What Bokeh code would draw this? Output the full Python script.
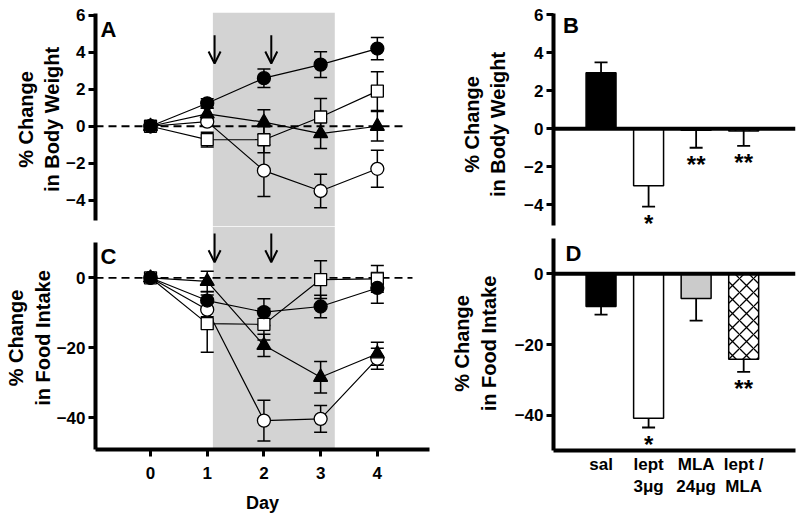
import numpy as np
from bokeh.plotting import figure
from bokeh.layouts import row, column
from bokeh.models import (Range1d, Label, Arrow, OpenHead, FixedTicker, Span,
                          BoxAnnotation, ColumnDataSource)
from bokeh.core.properties import value
from bokeh.embed import file_html
from bokeh.resources import INLINE

FONT = "Liberation Sans"

# ---------------- data ----------------
days = [0, 1, 2, 3, 4]
injection_days = [1.13, 2.13]
treatment_window = (1.1, 3.25)

# Panel A: % change in body weight (mean, SEM)
bw_sal = [0, 1.24, 2.6, 3.33, 4.2]
bw_sal_err = [0, 0.25, 0.5, 0.7, 0.6]
bw_lept = [0, 0.25, -2.4, -3.5, -2.3]
bw_lept_err = [0, 0.2, 1.4, 0.9, 1.0]
bw_mla = [0, 0.67, 0.22, -0.4, 0.0]
bw_mla_err = [0, 0.3, 0.67, 0.8, 0.8]
bw_combo = [0, -0.72, -0.73, 0.5, 1.9]
bw_combo_err = [0, 0.4, 0.7, 1.0, 1.05]

# Panel C: % change in food intake (mean, SEM)
fi_sal = [0, -6.5, -9.8, -8.2, -2.9]
fi_sal_err = [0, 2.5, 3.8, 3.2, 4.4]
fi_lept = [0, -9.1, -40.8, -40.3, -23.1]
fi_lept_err = [0, 2.0, 5.8, 3.8, 3.0]
fi_mla = [0, -1.0, -19.3, -28.4, -21.7]
fi_mla_err = [0, 2.9, 3.2, 4.5, 3.3]
fi_combo = [0, -13.1, -13.3, -0.5, -0.3]
fi_combo_err = [0, 8.2, 4.5, 5.4, 3.8]

# Panels B / D: bar summaries
groups = ["sal", "lept\n3μg", "MLA\n24μg", "lept /\nMLA"]
group_pos = [1, 2, 3, 4]
bw_bar = [2.95, -3.0, -0.08, -0.12]
bw_bar_err = [0.55, 1.1, 0.92, 0.78]
bw_sig = ["", "*", "**", "**"]
fi_bar = [-9.2, -40.8, -7.0, -24.1]
fi_bar_err = [2.3, 2.6, 6.2, 3.6]
fi_sig = ["", "*", "", "**"]

bar_fill = ["black", "white", "#cbcbcb", "white"]
bar_hatch = [" ", " ", " ", "x"]

BAND = "#d3d3d3"


def style_axis(ax, ticks, bounds=None, ticks_on=True, label_standoff=3, axis_label_standoff=0):
    ax.ticker = FixedTicker(ticks=ticks)
    if bounds is not None:
        ax.bounds = bounds
    ax.axis_line_width = 4
    ax.axis_line_color = "black"
    ax.major_tick_line_width = 3
    ax.major_tick_line_color = "black" if ticks_on else None
    ax.major_tick_out = 7 if ticks_on else 0
    ax.major_tick_in = 0
    ax.minor_tick_line_color = None
    ax.major_label_text_font = FONT
    ax.major_label_text_font_style = "bold"
    ax.major_label_text_font_size = "17px"
    ax.major_label_text_color = "black"
    ax.major_label_standoff = label_standoff
    ax.axis_label_text_font = FONT
    ax.axis_label_text_font_style = "bold"
    ax.axis_label_text_font_size = "20px"
    ax.axis_label_text_color = "black"
    ax.axis_label_standoff = axis_label_standoff


def make_fig(w, h, xr, yr, borders, x_axis=True):
    p = figure(width=w, height=h, x_range=Range1d(*xr), y_range=Range1d(*yr),
               output_backend="svg", toolbar_location=None, tools="",
               x_axis_location="below" if x_axis else None,
               min_border_left=borders[0], min_border_right=borders[1],
               min_border_top=borders[2], min_border_bottom=borders[3])
    p.outline_line_color = None
    p.xgrid.visible = False
    p.ygrid.visible = False
    p.background_fill_color = "white"
    p.border_fill_color = "white"
    return p


def draw_time_panel(p, series, zero_end, arrow_top, arrow_tip):
    p.add_layout(BoxAnnotation(left=treatment_window[0], right=treatment_window[1],
                               fill_color=BAND, fill_alpha=1.0, line_color=None,
                               level="underlay"))
    p.segment(x0=[p.x_range.start], y0=[0], x1=[zero_end], y1=[0],
              line_color="black", line_width=1.8, line_dash="8 5")
    for y, err, marker, fill, size in series:
        p.line(days, y, line_color="black", line_width=1.2)
    for y, err, marker, fill, size in series:
        xs = [d for d, e in zip(days, err) if e > 0]
        lo = [v - e for v, e in zip(y, err) if e > 0]
        hi = [v + e for v, e in zip(y, err) if e > 0]
        p.segment(x0=xs, y0=lo, x1=xs, y1=hi, line_color="black", line_width=1.5)
        p.scatter(xs + xs, lo + hi, marker="dash", size=13,
                  line_color="black", line_width=1.5)
    for y, err, marker, fill, size in series:
        p.scatter(days, y, marker=marker, size=size, fill_color=fill,
                  line_color="black", line_width=1.3)
    for xa in injection_days:
        p.add_layout(Arrow(end=OpenHead(size=12, line_width=2, line_color="black"),
                           x_start=xa, y_start=arrow_top, x_end=xa, y_end=arrow_tip,
                           line_width=2, line_color="black"))


def draw_bar_panel(p, vals, errs, sig):
    ends = [v + np.sign(v) * e for v, e in zip(vals, errs)]
    src = ColumnDataSource(dict(x=group_pos, top=vals, fill=bar_fill, hatch=bar_hatch,
                                end=ends, sig=sig))
    p.segment(x0="x", y0="top", x1="x", y1="end", source=src,
              line_color="black", line_width=1.8)
    p.scatter(x="x", y="end", marker="dash", size=13, source=src,
              line_color="black", line_width=1.8)
    p.vbar(x="x", top="top", bottom=0, width=0.63, source=src,
           fill_color="fill", line_color="black", line_width=1.5,
           hatch_pattern="hatch", hatch_color="black", hatch_scale=14, hatch_weight=1.3)
    p.add_layout(Span(location=0, dimension="width", line_color="black", line_width=4))
    p.text(x="x", y="end", text="sig", source=src, text_font=value(FONT),
           text_font_style="bold", text_font_size="24px", text_align="center",
           text_baseline="alphabetic", y_offset=17, text_color="black")


def letter(p, txt, x, y):
    p.add_layout(Label(x=x, y=y, text=txt, text_font=FONT, text_font_style="bold",
                       text_font_size="22px", text_color="black",
                       text_baseline="alphabetic"))


# ---------------- left column ----------------
XL = (-0.97, 4.92)
pA = make_fig(445, 226, XL, (-5.42, 6.15), (95, 16, 12, 0), x_axis=False)
draw_time_panel(pA, [
    (bw_combo, bw_combo_err, "square", "white", 12),
    (bw_lept, bw_lept_err, "circle", "white", 13),
    (bw_mla, bw_mla_err, "triangle", "black", 14),
    (bw_sal, bw_sal_err, "circle", "black", 13),
], 4.45, 4.92, 3.39)
pA.yaxis.axis_label = "% Change\nin Body Weight"
style_axis(pA.yaxis[0], [-4, -2, 0, 2, 4, 6], bounds=(-5.1, 6.1))
letter(pA, "A", -0.88, 5.23)

pC = make_fig(445, 291, XL, (-49.06, 14.66), (95, 16, 0, 68))
draw_time_panel(pC, [
    (fi_combo, fi_combo_err, "square", "white", 12),
    (fi_lept, fi_lept_err, "circle", "white", 13),
    (fi_mla, fi_mla_err, "triangle", "black", 14),
    (fi_sal, fi_sal_err, "circle", "black", 13),
], 4.62, 12.66, 4.46)
pC.yaxis.axis_label = "% Change\nin Food Intake"
style_axis(pC.yaxis[0], [-40, -20, 0], bounds=(-49.06, 10.2))
pC.xaxis.axis_label = "Day"
style_axis(pC.xaxis[0], days, label_standoff=10, axis_label_standoff=11)
pC.xaxis.axis_label_text_font_size = "18px"
letter(pC, "C", -0.88, 6.1)

# ---------------- right column ----------------
XR = (0, 5.09)
pB = make_fig(355, 236, XR, (-5.68, 6.13), (108, 5, 12, 0), x_axis=False)
draw_bar_panel(pB, bw_bar, bw_bar_err, bw_sig)
pB.yaxis.axis_label = "% Change\nin Body Weight"
style_axis(pB.yaxis[0], [-4, -2, 0, 2, 4, 6], bounds=(-5.1, 6.1), axis_label_standoff=12)
letter(pB, "B", 0.2, 5.45)

pD = make_fig(355, 281, XR, (-49.9, 10.54), (108, 5, 0, 67))
draw_bar_panel(pD, fi_bar, fi_bar_err, fi_sig)
pD.yaxis.axis_label = "% Change\nin Food Intake"
style_axis(pD.yaxis[0], [-40, -20, 0], bounds=(-49.9, 10.0), axis_label_standoff=12)
style_axis(pD.xaxis[0], group_pos, ticks_on=False, label_standoff=4)
pD.xaxis.major_label_overrides = {pos: g for pos, g in zip(group_pos, groups)}
letter(pD, "D", 0.25, 5.73)

layout = row(column(pA, pC), column(pB, pD))

with open("out.html", "w") as f:
    f.write(file_html(layout, INLINE))
